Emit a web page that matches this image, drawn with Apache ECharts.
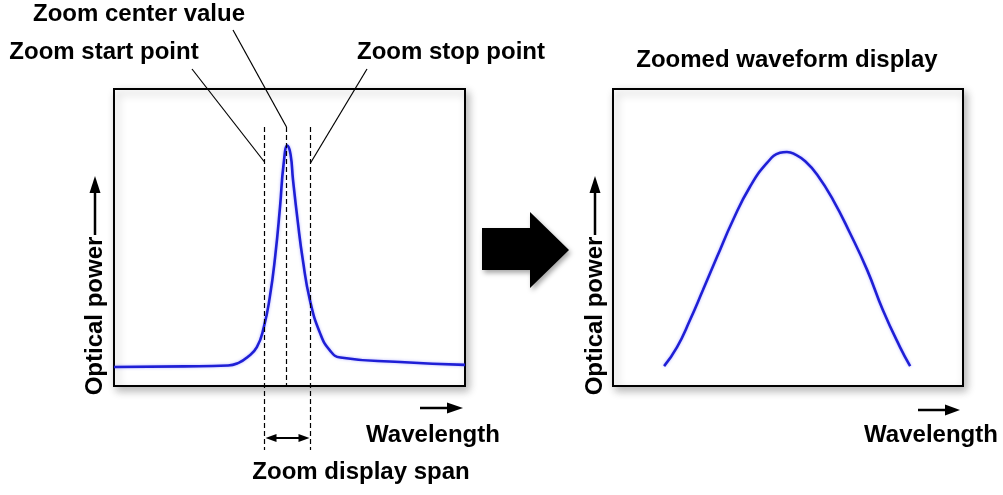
<!DOCTYPE html>
<html><head><meta charset="utf-8">
<script src="https://cdn.jsdelivr.net/npm/echarts@6/dist/echarts.min.js"></script>
<style>html,body{margin:0;padding:0;background:#fff}#c{width:1003px;height:495px}</style>
</head><body><div id="c"></div>
<script>
// ---- data (arbitrary units) ----
const overviewWavelength = [0, 20, 32.5, 35.5, 37.9, 40.7, 42.7, 44.4, 45.9, 47.3, 48.3, 49.4, 50.3, 51.0, 52.4, 53.8, 55.8, 58.7, 61.5, 64.5, 81.5, 100];
const overviewPower      = [6.4, 6.6, 6.9, 7.8, 9.6, 13.1, 19.9, 30.0, 43.4, 60.3, 74.5, 81.0, 78.0, 69.4, 54.9, 42.4, 29.0, 17.8, 12.0, 9.6, 8.1, 7.1];
const zoomedWavelength = [14.6, 18.3, 22.0, 25.7, 29.7, 34.3, 39.1, 44.0, 47.7, 49.7, 52.0, 55.0, 58.3, 62.9, 67.7, 72.6, 77.1, 82.0, 84.9];
const zoomedPower      = [6.7, 13.1, 22.2, 32.3, 43.4, 55.9, 67.0, 75.1, 78.5, 78.8, 78.0, 75.6, 71.2, 62.6, 51.5, 39.1, 25.6, 13.1, 6.7];
const zoomMarkers = [42.7, 48.9, 55.8]; // start, center, stop
const markerLabels = ['Zoom start point', 'Zoom center value', 'Zoom stop point'];
const axisLabels = ['Optical power', 'Wavelength'];
const titleLabels = ['Zoomed waveform display', 'Zoom display span'];

const pairs = (xs, ys) => xs.map((x, i) => [x, ys[i]]);
const FONT = 'bold 24px "Liberation Sans", Arial, sans-serif';
const BLUE = '#1f1fd6';

const chart = echarts.init(document.getElementById('c'), null, {renderer: 'canvas'});
const gridBase = {show: true, top: 89, height: 297, borderColor: '#000', borderWidth: 2,
  backgroundColor: '#fff', shadowColor: 'rgba(0,0,0,0.28)', shadowBlur: 8, shadowOffsetX: 3, shadowOffsetY: 4};
const hiddenAxis = (gi) => ({type: 'value', gridIndex: gi, min: 0, max: 100, show: false,
  splitLine: {show: false}, axisLine: {show: false}, axisTick: {show: false}, axisLabel: {show: false}});
const lineSeries = (gi, data) => ({type: 'line', xAxisIndex: gi, yAxisIndex: gi, data, smooth: 0.5,
  showSymbol: false, symbol: 'none', silent: true, clip: false,
  lineStyle: {color: BLUE, width: 2.6, shadowColor: 'rgba(40,40,255,0.35)', shadowBlur: 3}});

chart.setOption({
  animation: false,
  backgroundColor: '#fff',
  grid: [Object.assign({left: 114, width: 351}, gridBase), Object.assign({left: 613, width: 350}, gridBase)],
  xAxis: [hiddenAxis(0), hiddenAxis(1)],
  yAxis: [hiddenAxis(0), hiddenAxis(1)],
  series: [lineSeries(0, pairs(overviewWavelength, overviewPower)), lineSeries(1, pairs(zoomedWavelength, zoomedPower))]
});

// ---- annotations ----
const px = (x) => Math.round(chart.convertToPixel({gridIndex: 0}, [x, 0])[0]) + 0.5;
const K = '#000';
function line(x1, y1, x2, y2, w, dash) {
  return {type: 'line', silent: true, z: 10, shape: {x1, y1, x2, y2},
    style: {stroke: K, lineWidth: w, lineDash: dash || null}};
}
function head(tx, ty, dx, dy, len, half) {
  const n = Math.hypot(dx, dy), ux = dx / n, uy = dy / n;
  const bx = tx - ux * len, by = ty - uy * len;
  return {type: 'polygon', silent: true, z: 10,
    shape: {points: [[tx, ty], [bx - uy * half, by + ux * half], [bx + uy * half, by - ux * half]]},
    style: {fill: K}};
}
function text(str, x, y, rot) {
  return {type: 'text', silent: true, z: 10, x, y, rotation: rot || 0,
    style: {text: str, x: 0, y: 0, font: FONT, fill: K, align: 'center', verticalAlign: 'middle',
      textAlign: 'center', textVerticalAlign: 'middle'}};
}
const xs = zoomMarkers.map(px);
const g = [];
// dashed markers
g.push(line(xs[0], 127, xs[0], 450, 1.2, [5, 3]));
g.push(line(xs[1], 127, xs[1], 386, 1.2, [5, 3]));
g.push(line(xs[2], 127, xs[2], 450, 1.2, [5, 3]));
// leader lines
g.push(line(192, 69, xs[0], 162, 1.2));
g.push(line(233, 30, xs[1], 127, 1.2));
g.push(line(367, 69, xs[2], 163, 1.2));
// span double arrow
g.push(line(xs[0] + 6, 438, xs[2] - 6, 438, 2));
g.push(head(xs[0] + 1, 438, -1, 0, 11, 4));
g.push(head(xs[2] - 1, 438, 1, 0, 11, 4));
// labels
g.push(text(markerLabels[1], 139, 14));
g.push(text(markerLabels[0], 104, 52));
g.push(text(markerLabels[2], 451, 52));
g.push(text(titleLabels[0], 787, 60));
g.push(text(titleLabels[1], 361, 472));
g.push(text(axisLabels[1], 433, 435));
g.push(text(axisLabels[1], 931, 435));
g.push(text(axisLabels[0], 95, 316, Math.PI / 2));
g.push(text(axisLabels[0], 595, 316, Math.PI / 2));
// axis arrows
[95, 595].forEach(function (ax) {
  g.push(line(ax, 235, ax, 190, 2.5));
  g.push(head(ax, 176, 0, -1, 17, 5.5));
});
g.push(line(420, 408, 450, 408, 2.5)); g.push(head(463, 408, 1, 0, 16, 5.5));
g.push(line(918, 410, 946, 410, 2.5)); g.push(head(960, 410, 1, 0, 15, 5.5));
// big arrow
g.push({type: 'polygon', silent: true, z: 10,
  shape: {points: [[482, 228], [530, 228], [530, 212], [569, 250], [530, 288], [530, 270], [482, 270]]},
  style: {fill: K, shadowColor: 'rgba(0,0,0,0.35)', shadowBlur: 5, shadowOffsetX: 2, shadowOffsetY: 3}});
chart.setOption({graphic: {elements: g}});
</script>
</body></html>
